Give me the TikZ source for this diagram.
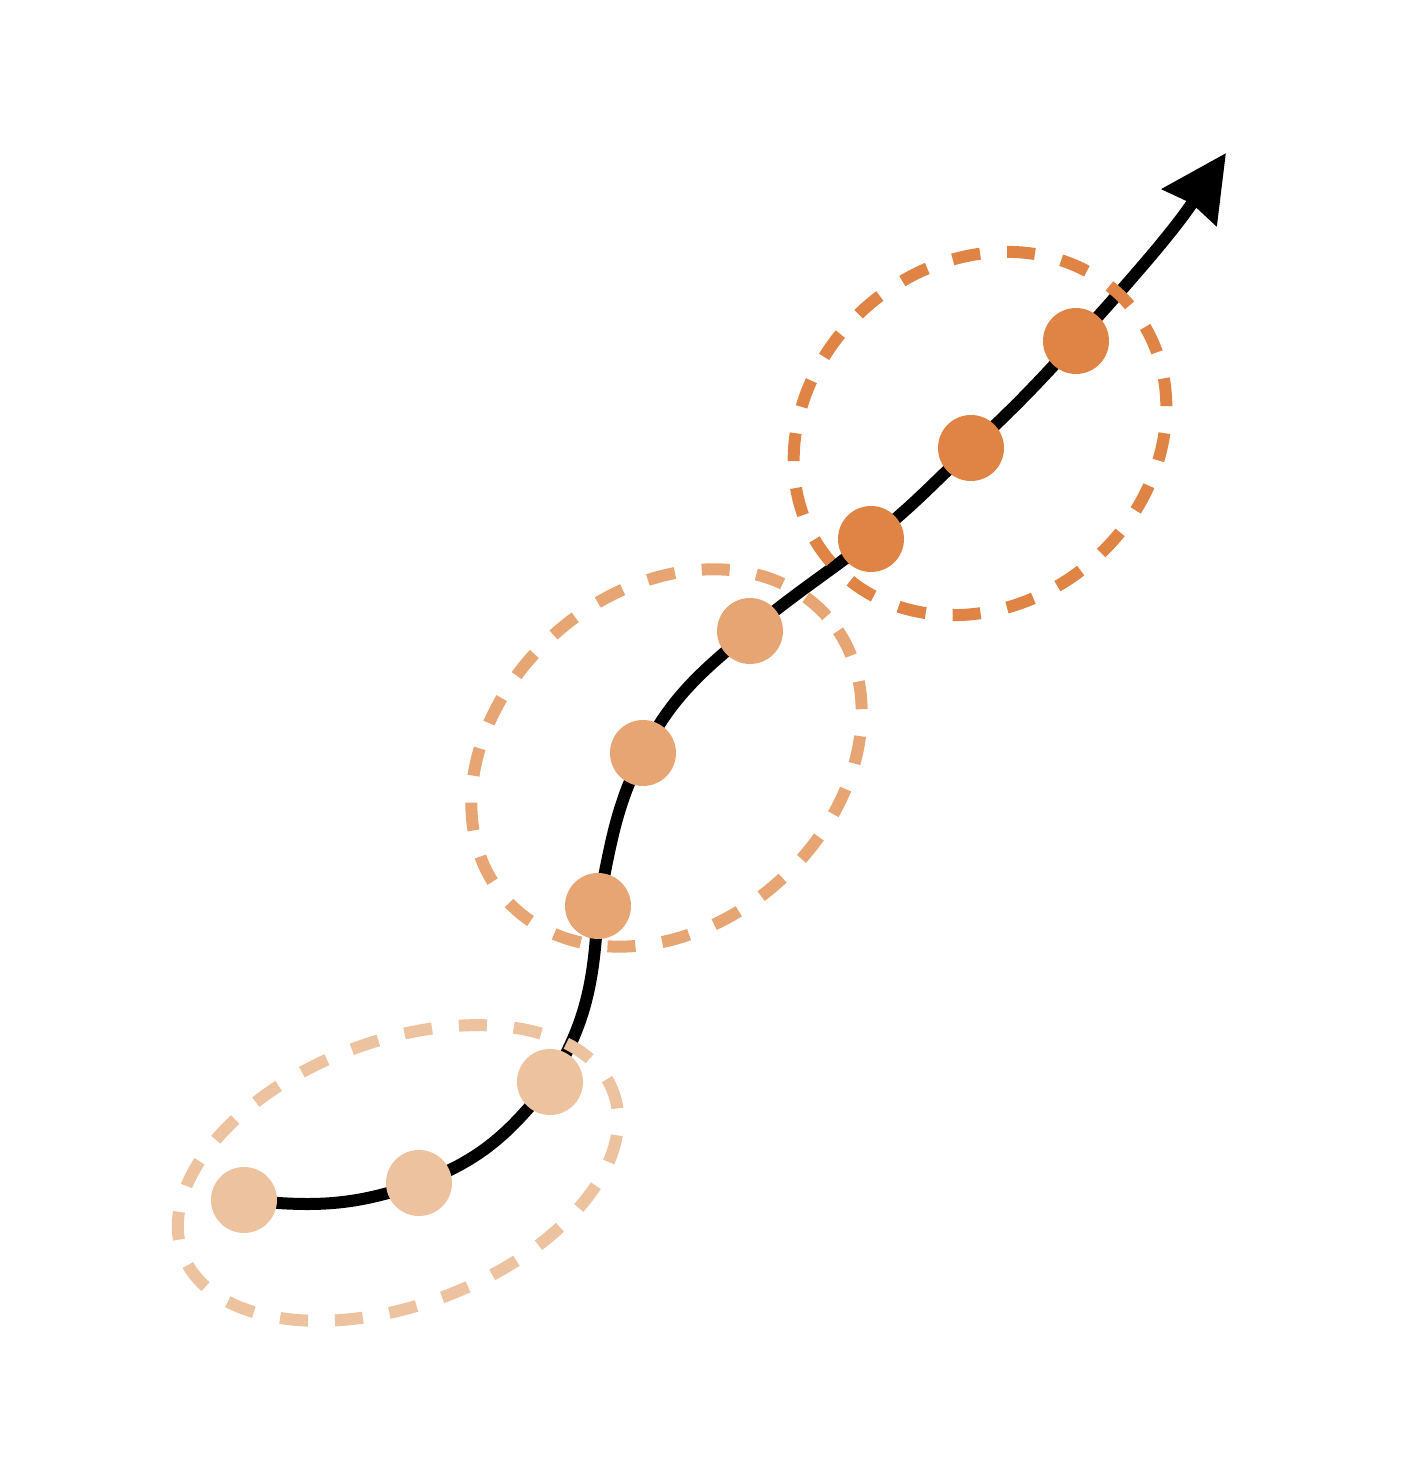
\documentclass[tikz,border=0pt]{standalone}
\usetikzlibrary{arrows.meta,backgrounds}

\definecolor{lightorange}{HTML}{EDC29F}
\definecolor{midorange}{HTML}{E6A572}
\definecolor{darkorange}{HTML}{DF8445}

\begin{document}
\begin{tikzpicture}[
            x=1pt, y=1pt,
            dot node/.style={circle,fill,inner sep=0pt,minimum size=66pt},
            trend/.style={draw,line width=12pt,-{Stealth[length=65pt,width=64pt,inset=4pt]}},
            group/.style={draw,line width=12pt,dash pattern=on 28pt off 27pt},
        ]
            \useasboundingbox (0,0) rectangle (1414,1460);

            \node[dot node,lightorange] (p1) at (244,260) {};
            \node[dot node,lightorange] (p2) at (419,277) {};
            \node[dot node,lightorange] (p3) at (550,378) {};
            \node[dot node,midorange] (p4) at (598,554) {};
            \node[dot node,midorange] (p5) at (643,707) {};
            \node[dot node,midorange] (p6) at (750,829) {};
            \node[dot node,darkorange] (p7) at (871,921) {};
            \node[dot node,darkorange] (p8) at (971,1012) {};
            \node[dot node,darkorange] (p9) at (1076,1119) {};
            \coordinate (tip) at (1226,1307);

            \coordinate (c1) at (398,287);
            \coordinate (c2) at (666.5,702);
            \coordinate (c3) at (980,1026.5);

            \begin{scope}[on background layer]
                \path[trend] (p1.center) to[out=-6,in=200] (p2.center)
                    to[out=20,in=232] (p3.center)
                    to[out=58,in=267] (p4.center)
                    to[out=78,in=243] (p5.center)
                    to[out=63,in=220] (p6.center)
                    to[out=40,in=218] (p7.center)
                    to[out=38,in=223] (p8.center)
                    to[out=43,in=228] (p9.center)
                    to[out=48,in=236] (tip);

                \draw[group,lightorange,dash phase=14pt,rotate around={20.7:(c1)}] (c1) ellipse (230 and 132);
                \draw[group,midorange,dash phase=53pt,rotate around={41:(c2)}] (c2) ellipse (214 and 167);
                \draw[group,darkorange,dash phase=53pt,rotate around={40:(c3)}] (c3) ellipse (197 and 170);
            \end{scope}
        \end{tikzpicture}
\end{document}
